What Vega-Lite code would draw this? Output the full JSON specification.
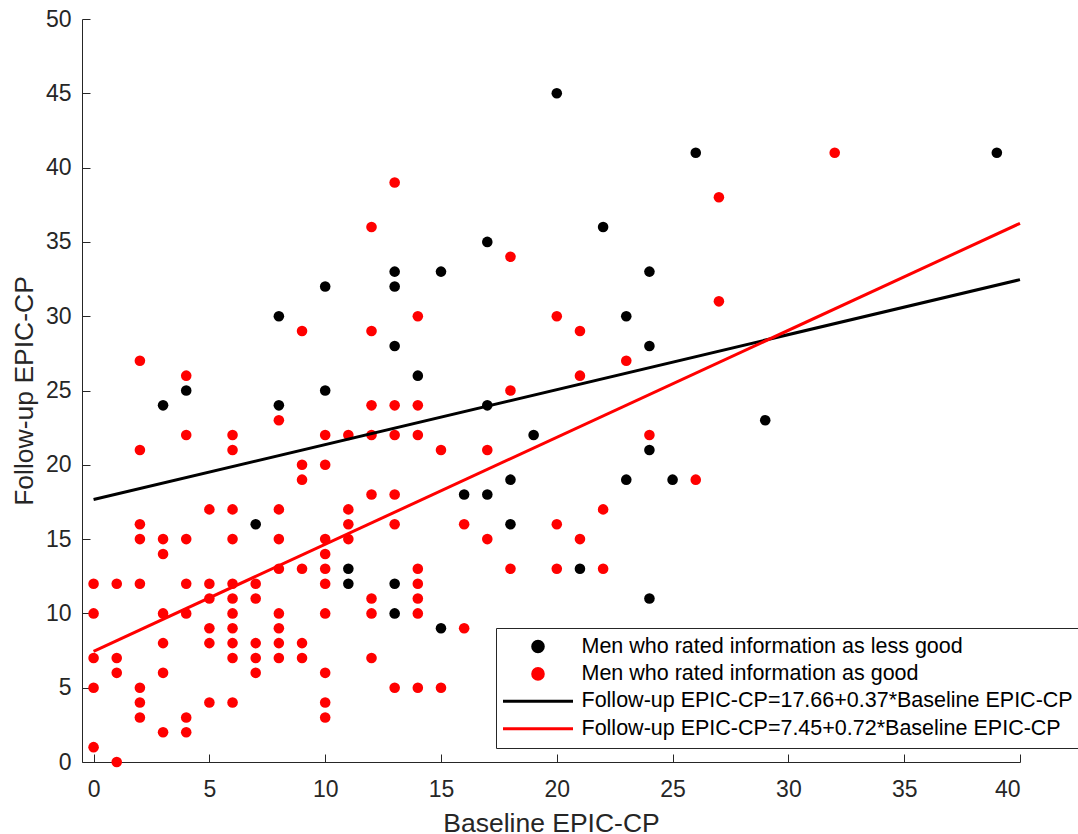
{
  "$schema": "https://vega.github.io/schema/vega-lite/v6.json",
  "width": 938,
  "height": 743,
  "autosize": {"type": "none"},
  "padding": {"left": 82, "top": 19, "right": 58, "bottom": 72},
  "background": "white",
  "config": {
    "view": {"stroke": null},
    "font": "Liberation Sans",
    "axis": {
      "grid": false,
      "domainColor": "#262626",
      "domainWidth": 1,
      "tickColor": "#262626",
      "tickWidth": 1,
      "tickSize": -8,
      "labelColor": "#262626",
      "labelFontSize": 23,
      "titleColor": "#262626",
      "titleFontSize": 26.5,
      "titleFontWeight": "normal"
    }
  },
  "datasets": {
    "pts": [
      {"x": 20, "y": 45, "g": "Men who rated information as less good"},
      {"x": 26, "y": 41, "g": "Men who rated information as less good"},
      {"x": 39, "y": 41, "g": "Men who rated information as less good"},
      {"x": 22, "y": 36, "g": "Men who rated information as less good"},
      {"x": 17, "y": 35, "g": "Men who rated information as less good"},
      {"x": 13, "y": 33, "g": "Men who rated information as less good"},
      {"x": 15, "y": 33, "g": "Men who rated information as less good"},
      {"x": 24, "y": 33, "g": "Men who rated information as less good"},
      {"x": 10, "y": 32, "g": "Men who rated information as less good"},
      {"x": 13, "y": 32, "g": "Men who rated information as less good"},
      {"x": 8, "y": 30, "g": "Men who rated information as less good"},
      {"x": 23, "y": 30, "g": "Men who rated information as less good"},
      {"x": 13, "y": 28, "g": "Men who rated information as less good"},
      {"x": 24, "y": 28, "g": "Men who rated information as less good"},
      {"x": 14, "y": 26, "g": "Men who rated information as less good"},
      {"x": 4, "y": 25, "g": "Men who rated information as less good"},
      {"x": 10, "y": 25, "g": "Men who rated information as less good"},
      {"x": 3, "y": 24, "g": "Men who rated information as less good"},
      {"x": 8, "y": 24, "g": "Men who rated information as less good"},
      {"x": 17, "y": 24, "g": "Men who rated information as less good"},
      {"x": 29, "y": 23, "g": "Men who rated information as less good"},
      {"x": 19, "y": 22, "g": "Men who rated information as less good"},
      {"x": 24, "y": 21, "g": "Men who rated information as less good"},
      {"x": 18, "y": 19, "g": "Men who rated information as less good"},
      {"x": 23, "y": 19, "g": "Men who rated information as less good"},
      {"x": 25, "y": 19, "g": "Men who rated information as less good"},
      {"x": 16, "y": 18, "g": "Men who rated information as less good"},
      {"x": 17, "y": 18, "g": "Men who rated information as less good"},
      {"x": 7, "y": 16, "g": "Men who rated information as less good"},
      {"x": 18, "y": 16, "g": "Men who rated information as less good"},
      {"x": 11, "y": 13, "g": "Men who rated information as less good"},
      {"x": 21, "y": 13, "g": "Men who rated information as less good"},
      {"x": 11, "y": 12, "g": "Men who rated information as less good"},
      {"x": 13, "y": 12, "g": "Men who rated information as less good"},
      {"x": 24, "y": 11, "g": "Men who rated information as less good"},
      {"x": 13, "y": 10, "g": "Men who rated information as less good"},
      {"x": 15, "y": 9, "g": "Men who rated information as less good"},
      {"x": 32, "y": 41, "g": "Men who rated information as good"},
      {"x": 13, "y": 39, "g": "Men who rated information as good"},
      {"x": 27, "y": 38, "g": "Men who rated information as good"},
      {"x": 12, "y": 36, "g": "Men who rated information as good"},
      {"x": 18, "y": 34, "g": "Men who rated information as good"},
      {"x": 27, "y": 31, "g": "Men who rated information as good"},
      {"x": 14, "y": 30, "g": "Men who rated information as good"},
      {"x": 20, "y": 30, "g": "Men who rated information as good"},
      {"x": 9, "y": 29, "g": "Men who rated information as good"},
      {"x": 12, "y": 29, "g": "Men who rated information as good"},
      {"x": 21, "y": 29, "g": "Men who rated information as good"},
      {"x": 2, "y": 27, "g": "Men who rated information as good"},
      {"x": 23, "y": 27, "g": "Men who rated information as good"},
      {"x": 4, "y": 26, "g": "Men who rated information as good"},
      {"x": 21, "y": 26, "g": "Men who rated information as good"},
      {"x": 18, "y": 25, "g": "Men who rated information as good"},
      {"x": 12, "y": 24, "g": "Men who rated information as good"},
      {"x": 13, "y": 24, "g": "Men who rated information as good"},
      {"x": 14, "y": 24, "g": "Men who rated information as good"},
      {"x": 8, "y": 23, "g": "Men who rated information as good"},
      {"x": 4, "y": 22, "g": "Men who rated information as good"},
      {"x": 6, "y": 22, "g": "Men who rated information as good"},
      {"x": 10, "y": 22, "g": "Men who rated information as good"},
      {"x": 11, "y": 22, "g": "Men who rated information as good"},
      {"x": 12, "y": 22, "g": "Men who rated information as good"},
      {"x": 13, "y": 22, "g": "Men who rated information as good"},
      {"x": 14, "y": 22, "g": "Men who rated information as good"},
      {"x": 24, "y": 22, "g": "Men who rated information as good"},
      {"x": 2, "y": 21, "g": "Men who rated information as good"},
      {"x": 6, "y": 21, "g": "Men who rated information as good"},
      {"x": 15, "y": 21, "g": "Men who rated information as good"},
      {"x": 17, "y": 21, "g": "Men who rated information as good"},
      {"x": 9, "y": 20, "g": "Men who rated information as good"},
      {"x": 10, "y": 20, "g": "Men who rated information as good"},
      {"x": 9, "y": 19, "g": "Men who rated information as good"},
      {"x": 26, "y": 19, "g": "Men who rated information as good"},
      {"x": 12, "y": 18, "g": "Men who rated information as good"},
      {"x": 13, "y": 18, "g": "Men who rated information as good"},
      {"x": 5, "y": 17, "g": "Men who rated information as good"},
      {"x": 6, "y": 17, "g": "Men who rated information as good"},
      {"x": 8, "y": 17, "g": "Men who rated information as good"},
      {"x": 11, "y": 17, "g": "Men who rated information as good"},
      {"x": 22, "y": 17, "g": "Men who rated information as good"},
      {"x": 2, "y": 16, "g": "Men who rated information as good"},
      {"x": 11, "y": 16, "g": "Men who rated information as good"},
      {"x": 13, "y": 16, "g": "Men who rated information as good"},
      {"x": 16, "y": 16, "g": "Men who rated information as good"},
      {"x": 20, "y": 16, "g": "Men who rated information as good"},
      {"x": 2, "y": 15, "g": "Men who rated information as good"},
      {"x": 3, "y": 15, "g": "Men who rated information as good"},
      {"x": 4, "y": 15, "g": "Men who rated information as good"},
      {"x": 6, "y": 15, "g": "Men who rated information as good"},
      {"x": 8, "y": 15, "g": "Men who rated information as good"},
      {"x": 10, "y": 15, "g": "Men who rated information as good"},
      {"x": 11, "y": 15, "g": "Men who rated information as good"},
      {"x": 17, "y": 15, "g": "Men who rated information as good"},
      {"x": 21, "y": 15, "g": "Men who rated information as good"},
      {"x": 3, "y": 14, "g": "Men who rated information as good"},
      {"x": 10, "y": 14, "g": "Men who rated information as good"},
      {"x": 8, "y": 13, "g": "Men who rated information as good"},
      {"x": 9, "y": 13, "g": "Men who rated information as good"},
      {"x": 10, "y": 13, "g": "Men who rated information as good"},
      {"x": 14, "y": 13, "g": "Men who rated information as good"},
      {"x": 18, "y": 13, "g": "Men who rated information as good"},
      {"x": 20, "y": 13, "g": "Men who rated information as good"},
      {"x": 22, "y": 13, "g": "Men who rated information as good"},
      {"x": 0, "y": 12, "g": "Men who rated information as good"},
      {"x": 1, "y": 12, "g": "Men who rated information as good"},
      {"x": 2, "y": 12, "g": "Men who rated information as good"},
      {"x": 4, "y": 12, "g": "Men who rated information as good"},
      {"x": 5, "y": 12, "g": "Men who rated information as good"},
      {"x": 6, "y": 12, "g": "Men who rated information as good"},
      {"x": 7, "y": 12, "g": "Men who rated information as good"},
      {"x": 10, "y": 12, "g": "Men who rated information as good"},
      {"x": 14, "y": 12, "g": "Men who rated information as good"},
      {"x": 5, "y": 11, "g": "Men who rated information as good"},
      {"x": 6, "y": 11, "g": "Men who rated information as good"},
      {"x": 7, "y": 11, "g": "Men who rated information as good"},
      {"x": 12, "y": 11, "g": "Men who rated information as good"},
      {"x": 14, "y": 11, "g": "Men who rated information as good"},
      {"x": 0, "y": 10, "g": "Men who rated information as good"},
      {"x": 3, "y": 10, "g": "Men who rated information as good"},
      {"x": 4, "y": 10, "g": "Men who rated information as good"},
      {"x": 6, "y": 10, "g": "Men who rated information as good"},
      {"x": 8, "y": 10, "g": "Men who rated information as good"},
      {"x": 10, "y": 10, "g": "Men who rated information as good"},
      {"x": 12, "y": 10, "g": "Men who rated information as good"},
      {"x": 14, "y": 10, "g": "Men who rated information as good"},
      {"x": 5, "y": 9, "g": "Men who rated information as good"},
      {"x": 6, "y": 9, "g": "Men who rated information as good"},
      {"x": 8, "y": 9, "g": "Men who rated information as good"},
      {"x": 16, "y": 9, "g": "Men who rated information as good"},
      {"x": 3, "y": 8, "g": "Men who rated information as good"},
      {"x": 5, "y": 8, "g": "Men who rated information as good"},
      {"x": 6, "y": 8, "g": "Men who rated information as good"},
      {"x": 7, "y": 8, "g": "Men who rated information as good"},
      {"x": 8, "y": 8, "g": "Men who rated information as good"},
      {"x": 9, "y": 8, "g": "Men who rated information as good"},
      {"x": 0, "y": 7, "g": "Men who rated information as good"},
      {"x": 1, "y": 7, "g": "Men who rated information as good"},
      {"x": 6, "y": 7, "g": "Men who rated information as good"},
      {"x": 7, "y": 7, "g": "Men who rated information as good"},
      {"x": 8, "y": 7, "g": "Men who rated information as good"},
      {"x": 9, "y": 7, "g": "Men who rated information as good"},
      {"x": 12, "y": 7, "g": "Men who rated information as good"},
      {"x": 1, "y": 6, "g": "Men who rated information as good"},
      {"x": 3, "y": 6, "g": "Men who rated information as good"},
      {"x": 7, "y": 6, "g": "Men who rated information as good"},
      {"x": 10, "y": 6, "g": "Men who rated information as good"},
      {"x": 0, "y": 5, "g": "Men who rated information as good"},
      {"x": 2, "y": 5, "g": "Men who rated information as good"},
      {"x": 13, "y": 5, "g": "Men who rated information as good"},
      {"x": 14, "y": 5, "g": "Men who rated information as good"},
      {"x": 15, "y": 5, "g": "Men who rated information as good"},
      {"x": 2, "y": 4, "g": "Men who rated information as good"},
      {"x": 5, "y": 4, "g": "Men who rated information as good"},
      {"x": 6, "y": 4, "g": "Men who rated information as good"},
      {"x": 10, "y": 4, "g": "Men who rated information as good"},
      {"x": 2, "y": 3, "g": "Men who rated information as good"},
      {"x": 4, "y": 3, "g": "Men who rated information as good"},
      {"x": 10, "y": 3, "g": "Men who rated information as good"},
      {"x": 3, "y": 2, "g": "Men who rated information as good"},
      {"x": 4, "y": 2, "g": "Men who rated information as good"},
      {"x": 0, "y": 1, "g": "Men who rated information as good"},
      {"x": 1, "y": 0, "g": "Men who rated information as good"}
    ],
    "fits": [
      {"x": 0, "y": 17.66, "g": "Follow-up EPIC-CP=17.66+0.37*Baseline EPIC-CP"},
      {"x": 40, "y": 32.46, "g": "Follow-up EPIC-CP=17.66+0.37*Baseline EPIC-CP"},
      {"x": 0, "y": 7.45, "g": "Follow-up EPIC-CP=7.45+0.72*Baseline EPIC-CP"},
      {"x": 40, "y": 36.25, "g": "Follow-up EPIC-CP=7.45+0.72*Baseline EPIC-CP"}
    ]
  },
  "encoding": {
    "x": {
      "field": "x",
      "type": "quantitative",
      "scale": {"domain": [-0.5, 40], "nice": false, "zero": false},
      "axis": {
        "values": [0, 5, 10, 15, 20, 25, 30, 35, 40],
        "labelPadding": 24,
        "title": "Baseline EPIC-CP",
        "titleY": 48
      }
    },
    "y": {
      "field": "y",
      "type": "quantitative",
      "scale": {"domain": [0, 50], "nice": false, "zero": false},
      "axis": {
        "values": [0, 5, 10, 15, 20, 25, 30, 35, 40, 45, 50],
        "labelPadding": 19,
        "title": "Follow-up EPIC-CP",
        "titleX": -44,
        "titleY": 371.5
      }
    },
    "color": {
      "field": "g",
      "type": "nominal",
      "scale": {
        "domain": [
          "Men who rated information as less good",
          "Men who rated information as good",
          "Follow-up EPIC-CP=17.66+0.37*Baseline EPIC-CP",
          "Follow-up EPIC-CP=7.45+0.72*Baseline EPIC-CP"
        ],
        "range": ["#000000", "#ff0000", "#000000", "#ff0000"]
      },
      "legend": {
        "orient": "none",
        "legendX": 414,
        "legendY": 609,
        "title": null,
        "direction": "vertical",
        "labelFontSize": 21.5,
        "labelColor": "#000000",
        "labelLimit": 0,
        "strokeColor": "#262626",
        "fillColor": "#ffffff",
        "padding": 5,
        "clipHeight": 27,
        "rowPadding": 0.4,
        "labelOffset": 7,
        "symbolOffset": 0.5,
        "symbolStrokeWidth": 3,
        "encode": {
          "symbols": {
            "update": {
              "stroke": {"signal": "indexOf(datum.value, 'Follow') == 0 ? scale('color', datum.value) : 'transparent'"},
              "fill": {"signal": "indexOf(datum.value, 'Follow') == 0 ? 'transparent' : scale('color', datum.value)"},
              "opacity": {"value": 1}
            }
          }
        }
      }
    }
  },
  "layer": [
    {
      "data": {"name": "pts"},
      "mark": {"type": "point", "filled": true, "opacity": 1},
      "encoding": {
        "shape": {
          "field": "g",
          "type": "nominal",
          "scale": {
            "domain": [
              "Men who rated information as less good",
              "Men who rated information as good",
              "Follow-up EPIC-CP=17.66+0.37*Baseline EPIC-CP",
              "Follow-up EPIC-CP=7.45+0.72*Baseline EPIC-CP"
            ],
            "range": ["circle", "circle", "stroke", "stroke"]
          }
        },
        "size": {
          "field": "g",
          "type": "nominal",
          "scale": {
            "type": "ordinal",
            "domain": [
              "Men who rated information as less good",
              "Men who rated information as good",
              "Follow-up EPIC-CP=17.66+0.37*Baseline EPIC-CP",
              "Follow-up EPIC-CP=7.45+0.72*Baseline EPIC-CP"
            ],
            "range": [112, 112, 4900, 4900]
          }
        }
      }
    },
    {
      "data": {"name": "fits"},
      "mark": {"type": "line", "strokeWidth": 3},
      "encoding": {}
    }
  ]
}
